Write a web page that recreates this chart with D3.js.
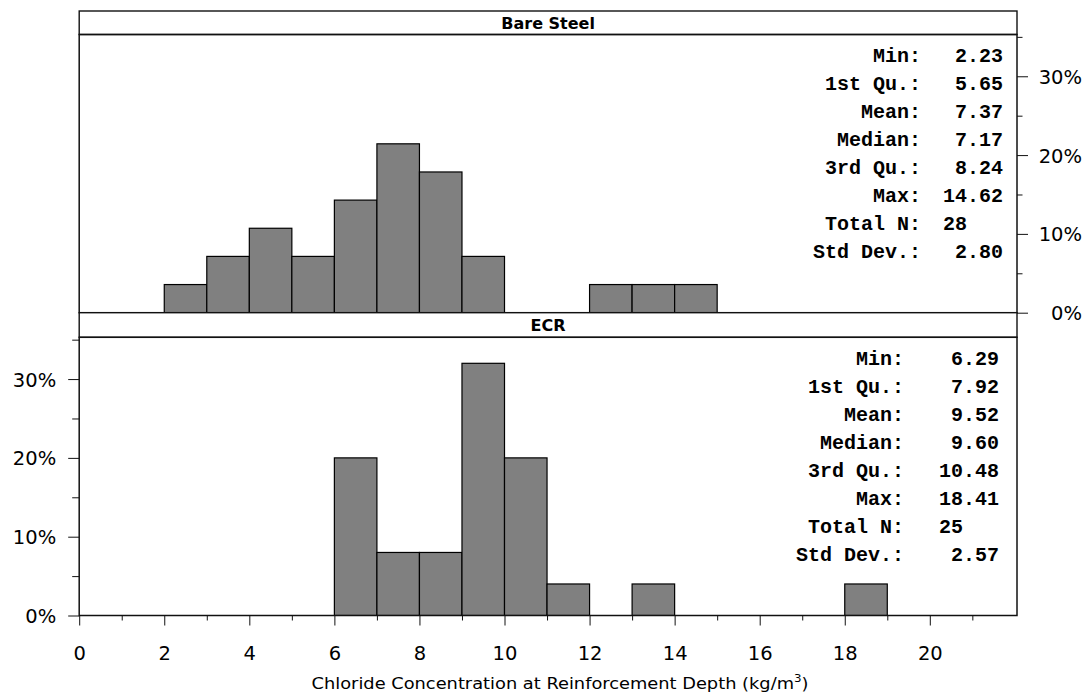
<!DOCTYPE html>
<html>
<head>
<meta charset="utf-8">
<script src="https://cdn.jsdelivr.net/npm/d3@7"></script>
<style>
  html, body { margin: 0; padding: 0; background: #fff; }
  svg { display: block; }
  .stat { font-family: "Liberation Mono", "Courier New", monospace; font-weight: bold; font-size: 20px; white-space: pre; }
  .tick text, .axis-title { font-family: "DejaVu Sans", Arial, sans-serif; }
</style>
</head>
<body>
<svg id="chart" width="1086" height="694"></svg>
<script>
// Histogram bin edges (kg/m^3)
const breaks = [0, 1, 2, 3, 4, 5, 6, 7, 8, 9, 10, 11, 12, 13, 14, 15, 16, 17, 18, 19, 20, 21, 22];

// Counts per bin, one entry per [break, next break)
const bareSteelCounts = [0, 0, 1, 2, 3, 2, 4, 6, 5, 2, 0, 0, 1, 1, 1, 0, 0, 0, 0, 0, 0, 0];
const ecrCounts       = [0, 0, 0, 0, 0, 0, 5, 2, 2, 8, 5, 1, 0, 1, 0, 0, 0, 0, 1, 0, 0, 0];

// Panel names
const panelNames = ["Bare Steel", "ECR"];

// Summary statistics printed in each panel
const statLabels = ["Min:", "1st Qu.:", "Mean:", "Median:", "3rd Qu.:", "Max:", "Total N:", "Std Dev.:"];
const bareSteelStats = [2.23, 5.65, 7.37, 7.17, 8.24, 14.62, 28, 2.80];
const ecrStats       = [6.29, 7.92, 9.52, 9.60, 10.48, 18.41, 25, 2.57];

// Axis ticks
const xMajorTicks = [0, 2, 4, 6, 8, 10, 12, 14, 16, 18, 20];
const xMinorTicks = [1, 3, 5, 7, 9, 11, 13, 15, 17, 19, 21];
const yMajorTicks = [0, 10, 20, 30];
const yMinorTicks = [5, 15, 25, 35];

const svg = d3.select("#chart");

// Layout
const L = 79.2, R = 1017;
const panels = [
  { name: panelNames[0], counts: bareSteelCounts, stats: bareSteelStats,
    stripTop: 11, top: 34.5, bottom: 312.7, labelX: 921, valueX: 943, yAxis: "right" },
  { name: panelNames[1], counts: ecrCounts, stats: ecrStats,
    stripTop: 312.7, top: 337.3, bottom: 615.5, labelX: 904, valueX: 939, yAxis: "left" }
];

const x = d3.scaleLinear().domain([0, 22.05]).range([L, R]);
const fmt = d3.format(".2f");

panels.forEach(p => {
  const n = d3.sum(p.counts);
  const y = d3.scaleLinear().domain([0, 35.3]).range([p.bottom, p.top]);

  const bins = p.counts.map((c, i) => ({ x0: breaks[i], x1: breaks[i + 1], pct: c / n * 100 }));

  // clip bars to the panel
  const clipId = "clip-" + p.name.replace(/\s+/g, "");
  svg.append("clipPath").attr("id", clipId)
    .append("rect").attr("x", L).attr("y", p.top).attr("width", R - L).attr("height", p.bottom - p.top);

  svg.append("g").attr("clip-path", `url(#${clipId})`)
    .selectAll("rect").data(bins).join("rect")
    .attr("x", d => x(d.x0))
    .attr("width", d => x(d.x1) - x(d.x0))
    .attr("y", d => y(d.pct))
    .attr("height", d => y(0) - y(d.pct))
    .attr("fill", "#808080")
    .attr("stroke", "#000")
    .attr("stroke-width", 1.2);

  // strip
  svg.append("rect").attr("x", L).attr("y", p.stripTop).attr("width", R - L).attr("height", p.top - p.stripTop)
    .attr("fill", "#fff").attr("stroke", "#111").attr("stroke-width", 1.4);
  svg.append("text").attr("x", (L + R) / 2).attr("y", (p.stripTop + p.top) / 2 + 6)
    .attr("text-anchor", "middle")
    .attr("font-family", "DejaVu Sans, Arial, sans-serif")
    .attr("font-weight", "bold").attr("font-size", 16)
    .text(p.name);

  // panel border
  svg.append("rect").attr("x", L).attr("y", p.top).attr("width", R - L).attr("height", p.bottom - p.top)
    .attr("fill", "none").attr("stroke", "#111").attr("stroke-width", 1.5);

  // y axis
  const yAxisG = svg.append("g");
  if (p.yAxis === "right") {
    yAxisG.attr("transform", `translate(${R},0)`)
      .call(d3.axisRight(y).tickValues(yMajorTicks).tickSize(11).tickFormat(d => d + "%"));
    yAxisG.selectAll(".tick text").attr("x", 65).attr("text-anchor", "end");
    const minor = svg.append("g").attr("transform", `translate(${R},0)`)
      .call(d3.axisRight(y).tickValues(yMinorTicks).tickSize(5.5).tickFormat(""));
    minor.select(".domain").remove();
    minor.selectAll("line").attr("stroke", "#111");
  } else {
    yAxisG.attr("transform", `translate(${L},0)`)
      .call(d3.axisLeft(y).tickValues(yMajorTicks).tickSize(11).tickPadding(12).tickFormat(d => d + "%"));
    const minor = svg.append("g").attr("transform", `translate(${L},0)`)
      .call(d3.axisLeft(y).tickValues(yMinorTicks).tickSize(7).tickFormat(""));
    minor.select(".domain").remove();
    minor.selectAll("line").attr("stroke", "#111");
  }
  yAxisG.select(".domain").remove();
  yAxisG.selectAll("line").attr("stroke", "#111");
  yAxisG.selectAll(".tick text").attr("font-size", 19.5).attr("fill", "#000").attr("dy", "0.36em");

  // summary statistics
  const sg = svg.append("g");
  p.stats.forEach((v, i) => {
    const yy = p.top + 21 + i * 28 + 6.5;
    sg.append("text").attr("class", "stat").attr("x", p.labelX).attr("y", yy)
      .attr("text-anchor", "end").text(statLabels[i]);
    const s = statLabels[i] === "Total N:" ? String(v).padEnd(5, " ") : fmt(v).padStart(5, " ");
    sg.append("text").attr("class", "stat").attr("x", p.valueX).attr("y", yy)
      .attr("text-anchor", "start").text(s);
  });
});

// x axis under the lower panel
const xBottom = panels[1].bottom;
const xAxisG = svg.append("g").attr("transform", `translate(0,${xBottom})`)
  .call(d3.axisBottom(x).tickValues(xMajorTicks).tickSize(10).tickPadding(21).tickFormat(d3.format("d")));
xAxisG.select(".domain").remove();
xAxisG.selectAll("line").attr("stroke", "#111");
xAxisG.selectAll(".tick text").attr("font-size", 19.5).attr("fill", "#000");
const xMinor = svg.append("g").attr("transform", `translate(0,${xBottom})`)
  .call(d3.axisBottom(x).tickValues(xMinorTicks).tickSize(5).tickFormat(""));
xMinor.select(".domain").remove();
xMinor.selectAll("line").attr("stroke", "#111");

// x axis title
const title = svg.append("text").attr("class", "axis-title")
  .attr("transform", "translate(560,689) scale(1.08,1)")
  .attr("text-anchor", "middle").attr("font-size", 16.5);
title.append("tspan").text("Chloride Concentration at Reinforcement Depth (kg/m");
title.append("tspan").attr("font-size", 11).attr("dy", -7).text("3");
title.append("tspan").attr("dy", 7).text(")");
</script>
</body>
</html>
